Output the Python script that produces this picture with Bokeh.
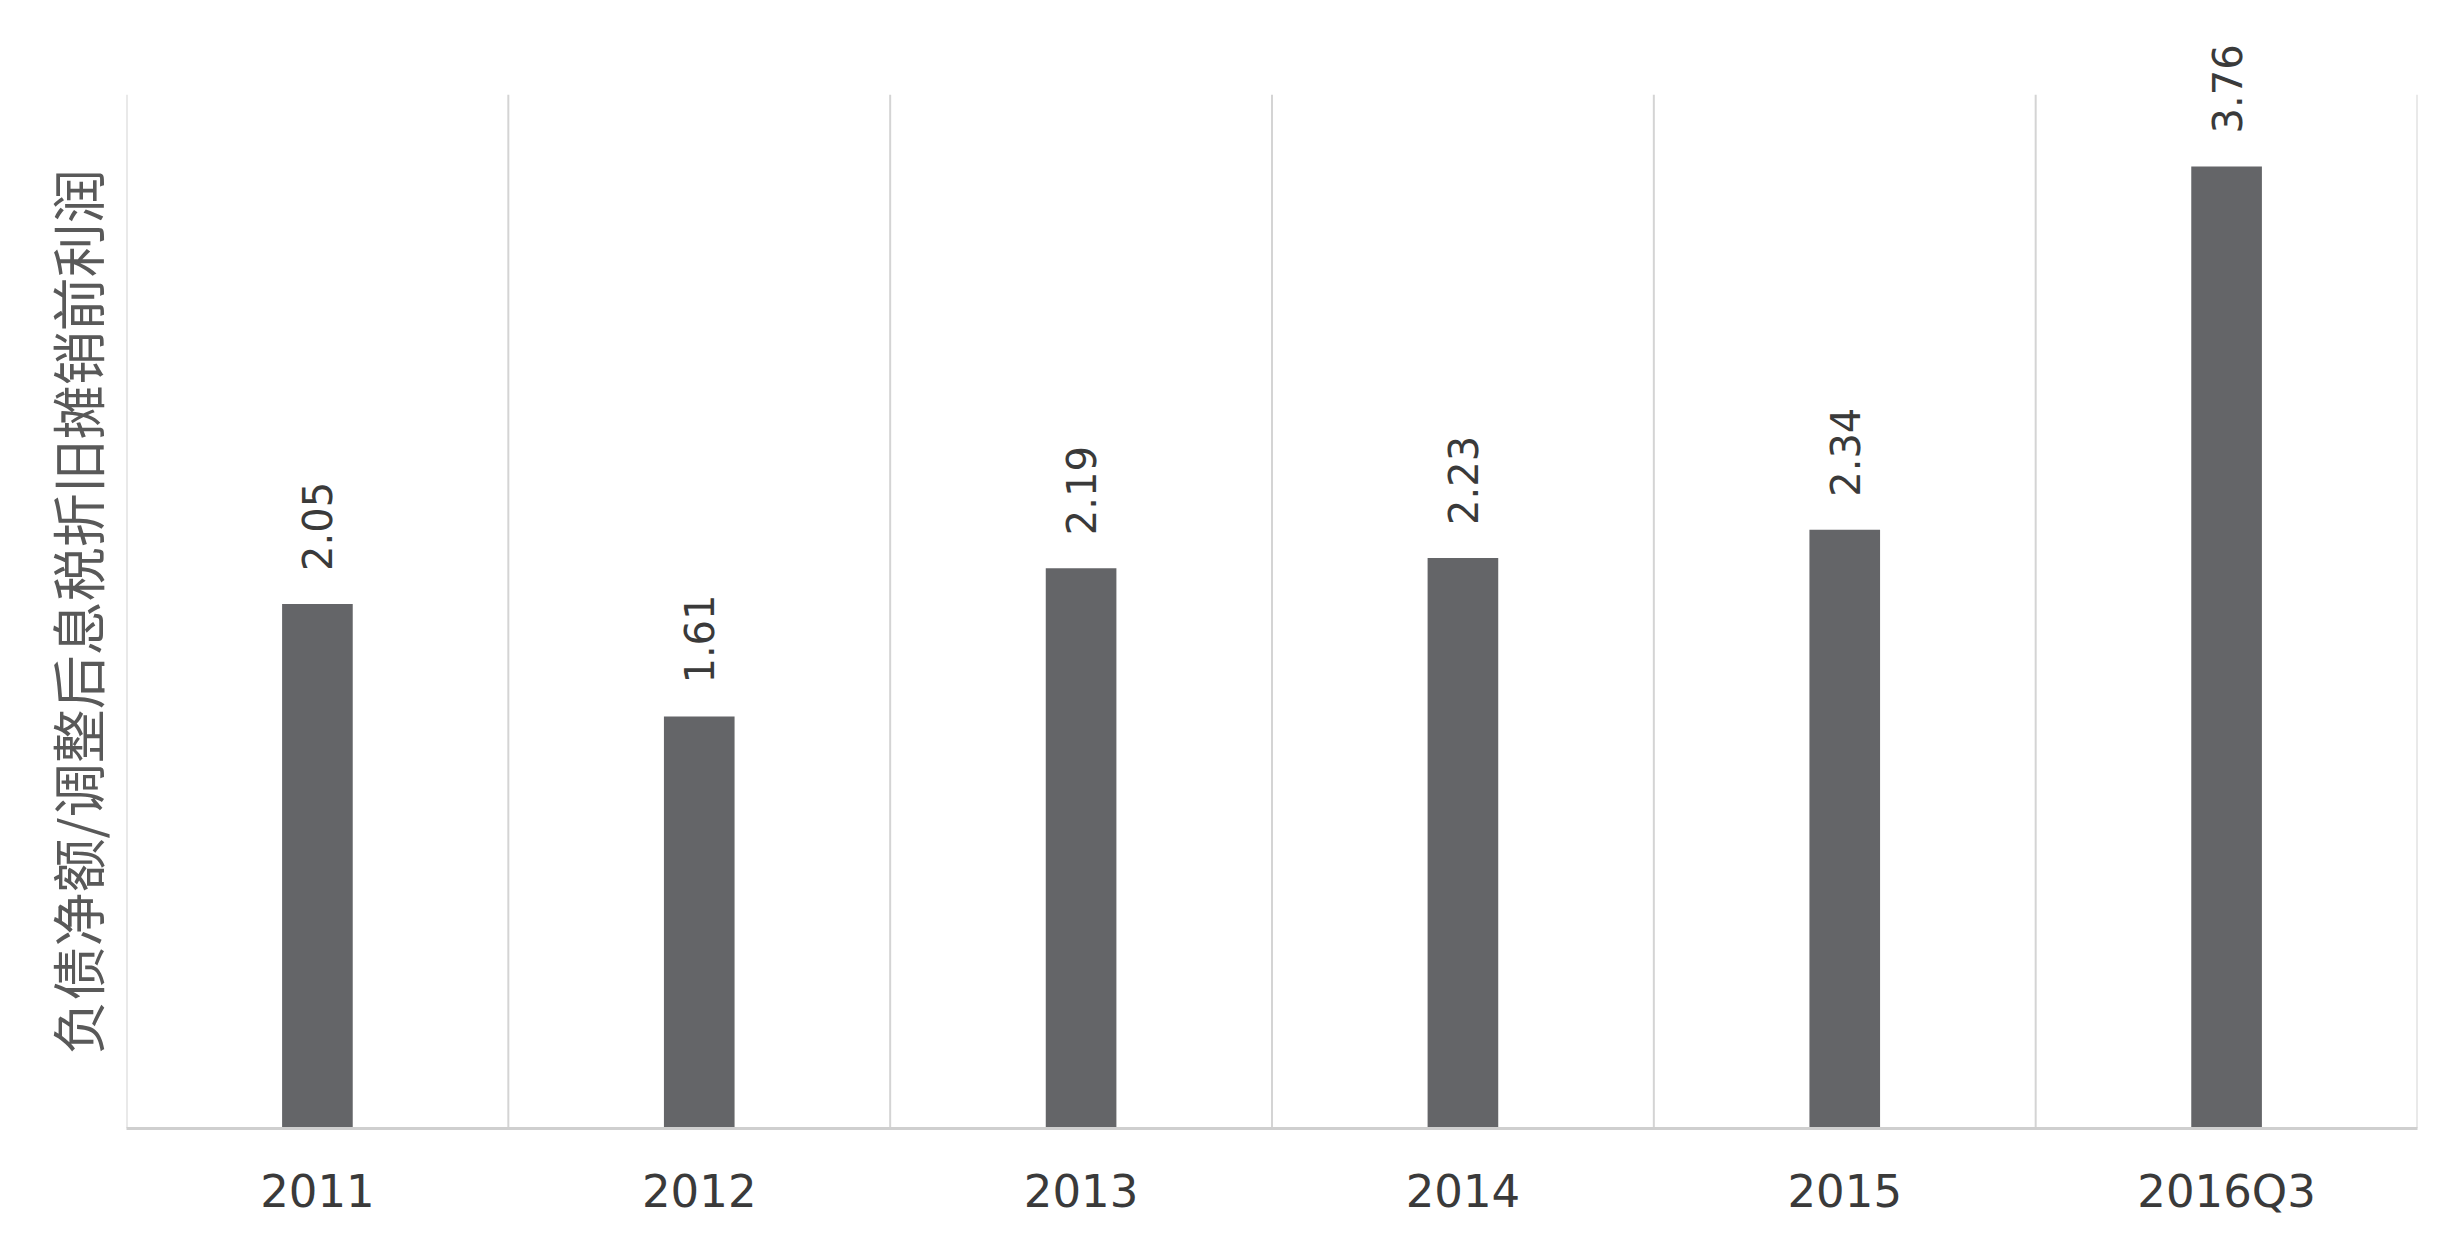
from bokeh.plotting import figure
from bokeh.models import ColumnDataSource, Range1d, FixedTicker, Title
from bokeh.core.properties import value
from bokeh.embed import file_html
from bokeh.resources import INLINE
import math

categories = ["2011", "2012", "2013", "2014", "2015", "2016Q3"]
ratios = [2.05, 1.61, 2.19, 2.23, 2.34, 3.76]
labels = ["2.05", "1.61", "2.19", "2.23", "2.34", "3.76"]
y_title = "负债净额/调整后息税折旧摊销前利润"
y_axis_max = 4.04      # top of the value axis (where the grid lines end)
y_view_max = 4.35      # extra head-room so the top data label is not clipped

n = len(categories)
xs = [i + 0.5 for i in range(n)]
src = ColumnDataSource(dict(x=xs, top=ratios, lab=labels))
bounds = list(range(n + 1))
grid_src = ColumnDataSource(dict(x=bounds, y0=[0] * (n + 1), y1=[y_axis_max] * (n + 1)))

p = figure(width=2445, height=1225, output_backend="svg", toolbar_location=None,
           x_range=Range1d(0, n), y_range=Range1d(0, y_view_max),
           min_border_left=126, min_border_right=28, min_border_top=15, min_border_bottom=97)
p.outline_line_color = None
p.background_fill_color = "white"
p.border_fill_color = "white"
p.xgrid.visible = False
p.ygrid.visible = False

# vertical separators between categories
p.segment(x0="x", x1="x", y0="y0", y1="y1", source=grid_src,
          line_color="#d4d4d4", line_width=2)

p.vbar(x="x", top="top", width=0.185, bottom=0, source=src,
       fill_color="#646568", line_color=None)

p.text(x="x", y="top", text="lab", source=src, angle=math.pi / 2,
       text_align="left", text_baseline="middle", y_offset=-33,
       text_font=value("DejaVu Sans"), text_font_size="40px", text_color="#3a3a3a")

xa = p.xaxis[0]
xa.ticker = FixedTicker(ticks=xs)
xa.major_label_overrides = {x: c for x, c in zip(xs, categories)}
xa.major_label_text_font = "DejaVu Sans"
xa.major_label_text_font_size = "45px"
xa.major_label_text_color = "#3a3a3a"
xa.major_label_standoff = 30
xa.major_tick_line_color = None
xa.minor_tick_line_color = None
xa.axis_line_color = "#cfcfcf"
xa.axis_line_width = 3

p.yaxis.visible = False

# value-axis title, placed along the value axis (0 .. y_axis_max)
t = Title(text=y_title, align="left", offset=74, standoff=22,
          text_font="Noto Sans CJK SC", text_font_size="54px",
          text_font_style="normal", text_color="#595959")
p.add_layout(t, "left")

open("out.html", "w").write(file_html(p, INLINE))
